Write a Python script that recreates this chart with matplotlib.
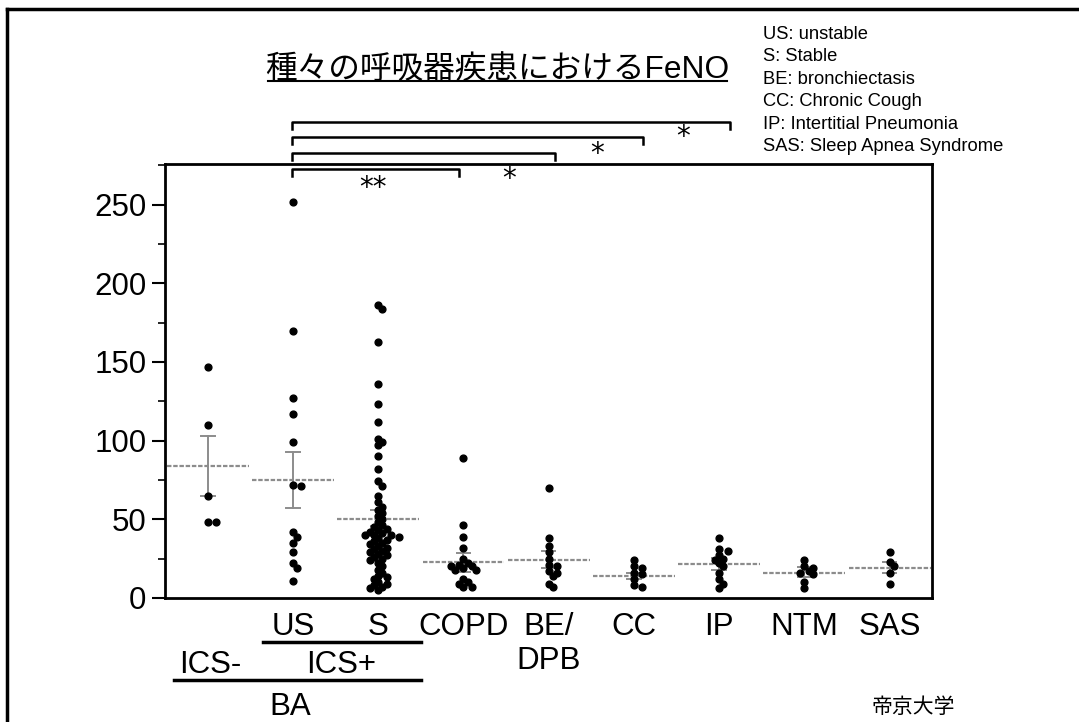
import matplotlib
matplotlib.use('Agg')
from matplotlib import pyplot as plt
from matplotlib.lines import Line2D
from matplotlib.ticker import MultipleLocator

# FeNO per group (ppb)
ics_neg = [147, 110, 65, 48, 48]
us = [252, 170, 127, 117, 99, 72, 71, 42, 39, 35, 29, 22, 19, 11]
s = [186, 184, 163, 136, 123, 112, 101, 99, 97, 90, 82, 74, 71, 65, 61,
     58, 56, 54, 52, 50, 48, 46, 45, 44, 43, 42, 41, 40, 40, 40, 39, 38,
     37, 36, 35, 34, 33, 32, 31, 30, 29, 28, 27, 26, 25, 24, 22, 20, 18,
     16, 14, 13, 12, 10, 9, 8, 7, 6, 5]
copd = [89, 46, 39, 32, 25, 22, 21, 20, 20, 19, 18, 18, 12, 10, 9, 7, 7]
be_dpb = [70, 38, 33, 29, 25, 21, 20, 17, 16, 14, 9, 7]
cc = [24, 20, 19, 16, 15, 12, 8, 7]
ip = [38, 31, 30, 27, 25, 24, 22, 20, 16, 12, 9, 6]
ntm = [24, 20, 19, 17, 16, 15, 10, 6]
sas = [29, 23, 20, 16, 9]

groups = [ics_neg, us, s, copd, be_dpb, cc, ip, ntm, sas]
tick_labels = ['', 'US', 'S', 'COPD', 'BE/\nDPB', 'CC', 'IP', 'NTM', 'SAS']
means = [83.7, 74.8, 50.4, 22.5, 24.2, 14.0, 21.6, 15.7, 18.9]
err_hi = [103, 92.6, 56, 28.4, 29.5, 16, 25.2, 19.3, 22.5]
err_lo = [64.6, 57, 45.6, 16.7, 18.9, 11.9, 17.4, 13.1, 16]

# significance brackets vs US: (right end, label, star x)
brackets = [(2.95, '**', 1.94), (4.08, '*', 3.53), (5.11, '*', 4.57), (6.13, '*', 5.58)]
bracket_y = [272.9, 283, 293.3, 302.8]
star_y = [255.8, 261.5, 277.4, 288]

abbrevs = ['US: unstable', 'S: Stable', 'BE: bronchiectasis', 'CC: Chronic Cough',
           'IP: Intertitial Pneumonia', 'SAS: Sleep Apnea Syndrome']

PX_X = 85.3   # pixels per category
PX_Y = 1.572  # pixels per ppb


def swarm(vals, dx=0.05, gap=4.8):
    placed = []
    offs = []
    cands = [0]
    for k in range(1, 8):
        cands += [k * dx, -k * dx]
    for v in vals:
        for o in cands:
            if all(((o - po) * PX_X) ** 2 + ((v - pv) * PX_Y) ** 2 >= gap ** 2 for po, pv in placed):
                break
        placed.append((o, v))
        offs.append(o)
    return offs


plt.rcParams['font.family'] = ['Liberation Sans', 'DejaVu Sans']
fig = plt.figure(figsize=(10.79, 7.22), dpi=100)
ax = fig.add_axes([0.153, 0.172, 0.711, 0.601])

for i, g in enumerate(groups):
    offs = swarm(g)
    ax.scatter([i + o for o in offs], g, s=24, color='black', zorder=3, clip_on=False)
    ax.plot([i - 0.48, i + 0.48], [means[i], means[i]], color='0.55', lw=1.6, ls=(0, (2, 0.8)), zorder=2)
    ax.plot([i, i], [err_lo[i], err_hi[i]], color='0.55', lw=1.4, zorder=2)
    for e in (err_lo[i], err_hi[i]):
        ax.plot([i - 0.08, i + 0.08], [e, e], color='0.55', lw=1.4, zorder=2)

ax.set_xlim(-0.5, 8.5)
ax.set_ylim(0, 276)
ax.yaxis.set_major_locator(MultipleLocator(50))
ax.yaxis.set_minor_locator(MultipleLocator(25))
ax.tick_params(axis='y', which='major', length=9.5, width=1.5, labelsize=22.5, pad=4)
ax.tick_params(axis='y', which='minor', length=5, width=1.2)
ax.set_xticks(range(len(groups)))
ax.set_xticklabels(tick_labels, fontsize=22.5)
ax.tick_params(axis='x', length=0, pad=10)
for sp in ax.spines.values():
    sp.set_linewidth(2)

# significance brackets
for (x2, lab, sx), by, sy in zip(brackets, bracket_y, star_y):
    ax.plot([0.985, 0.985, x2, x2], [by - 4.5, by, by, by - 4.5], color='black', lw=1.8, clip_on=False)
    ax.text(sx, sy, lab, ha='center', va='baseline', fontsize=20, family='DejaVu Sans')

# group labels below the axis
tr = ax.get_xaxis_transform()
ax.text(0.03, -0.154, 'ICS-', transform=tr, ha='center', va='center', fontsize=22.5)
ax.text(1.56, -0.154, 'ICS+', transform=tr, ha='center', va='center', fontsize=22.5)
ax.text(0.97, -0.251, 'BA', transform=tr, ha='center', va='center', fontsize=22.5)
ax.add_line(Line2D([0.645, 2.5], [-0.101, -0.101], transform=tr, color='black', lw=2.5, clip_on=False))
ax.add_line(Line2D([-0.4, 2.5], [-0.189, -0.189], transform=tr, color='black', lw=2.5, clip_on=False))
ax.text(8.28, -0.251, '帝京大学', transform=tr, ha='center', va='center', fontsize=15,
        family=['Noto Sans CJK JP', 'DejaVu Sans'])

# title with underline
fig.text(497.5 / 1079, 1 - 70 / 722, '種々の呼吸器疾患におけるFeNO', ha='center', va='center',
         fontsize=22.8, family=['Liberation Sans', 'Noto Sans CJK JP'])
fig.add_artist(Line2D([268 / 1079, 727 / 1079], [1 - 81 / 722, 1 - 81 / 722], color='black', lw=1.5))

for k, line in enumerate(abbrevs):
    fig.text(763 / 1079, 1 - (39 + 22.4 * k) / 722, line, ha='left', va='baseline', fontsize=13.2)

# slide frame
fig.add_artist(Line2D([7 / 1079, 7 / 1079], [0, 1 - 9 / 722], color='black', lw=2.5))
fig.add_artist(Line2D([7 / 1079, 1], [1 - 9 / 722, 1 - 9 / 722], color='black', lw=2.5))

plt.savefig('out.png', dpi=100)
